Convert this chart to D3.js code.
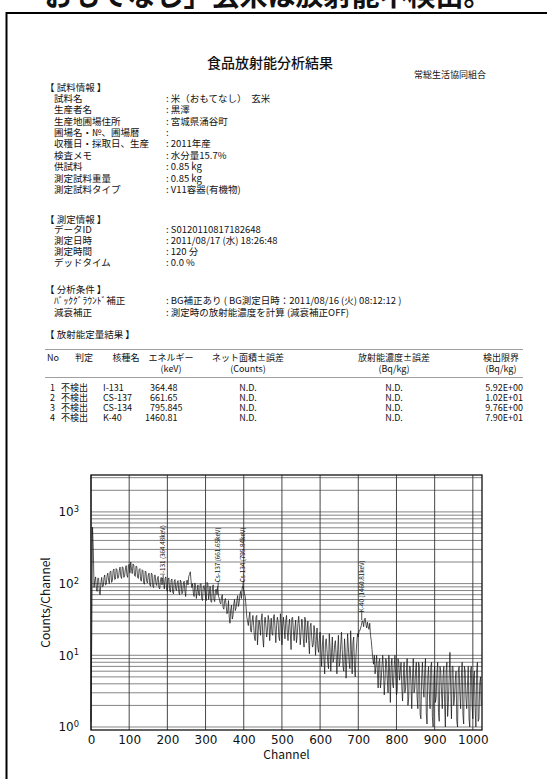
<!DOCTYPE html>
<html>
<head>
<meta charset="utf-8">
<script src="https://cdn.jsdelivr.net/npm/d3@7"></script>
<style>
  body { margin: 0; background: #fff; }
  text { font-family: "Noto Sans CJK JP", sans-serif; fill: #111; }
  .axis text { font-family: "DejaVu Sans", sans-serif; }
</style>
</head>
<body>
<div id="page"></div>
<script>
// ---- document text ----
var headline = 'おもてなし」玄米は放射能不検出。';
var docTitle = '食品放射能分析結果';
var issuer = '常総生活協同組合';

var sampleLabels = ['試料名', '生産者名', '生産地圃場住所', '圃場名・№、圃場暦', '収穫日・採取日、生産',
                    '検査メモ', '供試料', '測定試料重量', '測定試料タイプ'];
var sampleValues = ['米（おもてなし）　玄米', '黒澤', '宮城県涌谷町', '', '2011年産',
                    '水分量15.7%', '0.85 kg', '0.85 kg', 'V11容器(有機物)'];
var measureLabels = ['データID', '測定日時', '測定時間', 'デッドタイム'];
var measureValues = ['S0120110817182648', '2011/08/17 (水) 18:26:48', '120 分', '0.0 %'];
var analysisLabels = ['ﾊﾞｯｸｸﾞﾗｳﾝﾄﾞ補正', '減衰補正'];
var analysisValues = ['BG補正あり ( BG測定日時：2011/08/16 (火) 08:12:12 )', '測定時の放射能濃度を計算 (減衰補正OFF)'];

// ---- result table ----
var tableHead1 = ['No', '判定', '核種名', 'エネルギー', 'ネット面積±誤差', '放射能濃度±誤差', '検出限界'];
var tableHead2 = ['', '', '', '(keV)', '(Counts)', '(Bq/kg)', '(Bq/kg)'];
var resultNo = ['1', '2', '3', '4'];
var resultJudge = ['不検出', '不検出', '不検出', '不検出'];
var resultNuclide = ['I-131', 'CS-137', 'CS-134', 'K-40'];
var resultEnergy = ['364.48', '661.65', '795.845', '1460.81'];
var resultNet = ['N.D.', 'N.D.', 'N.D.', 'N.D.'];
var resultConc = ['N.D.', 'N.D.', 'N.D.', 'N.D.'];
var resultLimit = ['5.92E+00', '1.02E+01', '9.76E+00', '7.90E+01'];

// ---- spectrum: counts read at channels 0,4,8,... and 2,6,10,... ----
var channelStep = 4;
var countsEven = [].concat(
  [1.2, 610, 88, 124, 78, 118, 70, 122, 92, 132, 98],                                    // ch 0-40
  [140, 100, 150, 110, 160, 116, 156, 122, 170, 118, 166, 128, 178, 122, 186],           // ch 44-100
  [200, 138, 182, 126, 172, 118, 162, 108, 152, 98, 146, 102, 140, 92, 136, 88,
   132, 94, 126, 84, 122, 120],                                                          // ch 104-188
  [84, 124, 78, 120, 76, 116, 72, 114, 80, 110, 70, 106, 74, 108, 66, 112, 126, 146],    // ch 192-260
  [88, 74, 102, 62, 96, 68, 100, 58, 94, 64, 104, 60, 92, 55, 96, 56, 84, 92],           // ch 264-332
  [62, 52, 70, 44, 62, 38, 58, 28, 50, 36, 60, 46, 68, 54, 78, 88, 82],                  // ch 336-400
  [66, 34, 26, 40, 21, 36, 18, 34, 14, 31, 19, 38, 13, 34, 18, 36, 16, 33, 19, 37,
   15, 34, 18, 38, 14],                                                                  // ch 404-500
  [34, 17, 36, 16, 32, 12, 34, 16, 31, 19, 35, 14, 32, 17, 34, 15, 30, 10.5, 28, 13,
   26, 10, 24, 11],                                                                      // ch 504-596
  [21, 7, 19, 5.5, 17, 8, 20, 6, 18, 9, 16, 5.5, 19, 8, 21, 7, 17, 4.8, 20, 8, 22, 5.5,
   18, 5, 15, 18],                                                                       // ch 600-700
  [22, 26, 30, 32, 27, 29, 23, 19, 12, 7.5, 5.5],                                        // ch 704-744
  [10, 3.5, 9, 4.5, 10, 2.8, 9, 4.5, 10, 2.2, 9, 3.5, 10, 2.8, 9, 4.5, 8],               // ch 748-812
  [2.3, 8, 3.5, 9, 2.6, 7, 1.8, 9, 3.5, 8, 1.8, 7, 1.3, 8, 2.6, 9, 1.1, 7, 1.8, 8, 1, 7,
   2.6, 8, 1.2, 6, 1.8, 7, 1, 8, 2.2, 11, 1.3, 7, 2.6, 6, 1, 7, 1.8, 8, 1.1, 6, 1.8, 7,
   1, 7, 1.3, 6, 1, 8, 1.3, 5]                                                           // ch 816-1020
);
var countsOdd = [].concat(
  [20, 300, 110, 86, 120, 74, 104, 90, 120, 96, 128],                                    // ch 2-42
  [112, 146, 104, 152, 114, 162, 118, 150, 126, 172, 122, 160, 132, 180, 140],           // ch 46-102
  [160, 188, 130, 176, 122, 158, 112, 156, 102, 150, 106, 132, 96, 140, 92, 130,
   100, 120, 88, 114, 96, 108],                                                          // ch 106-190
  [118, 82, 116, 80, 112, 76, 108, 84, 104, 76, 112, 72, 102, 78, 108, 96, 134, 110],    // ch 194-262
  [100, 66, 90, 78, 70, 98, 62, 90, 80, 58, 100, 72, 56, 88, 60, 82, 70, 66],            // ch 266-334
  [54, 66, 46, 58, 50, 40, 34, 44, 32, 52, 42, 58, 48, 70, 62, 92, 72],                  // ch 338-402
  [48, 30, 34, 22, 30, 26, 16, 36, 22, 26, 32, 17, 28, 26, 22, 31, 24, 20, 35, 24,
   26, 30, 16, 28, 25],                                                                  // ch 406-502
  [24, 30, 21, 26, 20, 33, 22, 24, 15, 28, 24, 20, 27, 13, 30, 22, 16, 25, 18, 14,
   21, 16, 13, 17],                                                                      // ch 506-598
  [12, 14, 9, 15, 12, 6.5, 13, 11, 8, 14, 10, 12, 7, 14, 12, 6, 11, 9, 13, 6.5, 12, 15,
   7, 10, 20, 22],                                                                       // ch 602-702
  [24, 30, 25, 33, 24, 25, 28, 16, 9, 10, 7],                                            // ch 706-746
  [6, 8, 3.5, 7, 6, 4.5, 8, 3, 6, 7, 4, 7, 5, 3.2, 8, 6, 3.5],                           // ch 750-814
  [5, 3, 6, 2, 7, 4, 5, 3, 6, 2.6, 8, 1.5, 5, 3.5, 6, 1.6, 5, 3, 7, 1.4, 5, 2.2, 6, 1.6,
   7, 3, 5, 2.2, 6, 1.4, 5, 3.5, 7, 2, 4.5, 1.2, 6, 3, 5, 1.5, 7, 2.5, 4, 1.3, 6, 2, 5,
   1.8, 6, 1.2, 4, 2]                                                                    // ch 818-1022
);
var xTicks = [0, 100, 200, 300, 400, 500, 600, 700, 800, 900, 1000];
var yTicks = [1, 10, 100, 1000];

var peakNames = ['I-131 (364.48keV)', 'Cs-137 (661.65keV)', 'Cs-134 (795.84keV)', 'K-40 (1460.81keV)'];
var peakChannels = [189, 333, 398, 709];
var peakCounts = [118, 90, 86, 31];
var peakLabelFrom = [132, 104, 104, 40];

// -------------------------------------------------------------
var W = 547, H = 779;
var svg = d3.select('#page').append('svg')
    .attr('width', W)
    .attr('height', H);

svg.append('rect').attr('width', W).attr('height', H).attr('fill', '#fff');

// headline cut at the top edge
svg.append('text')
    .attr('x', 268).attr('y', 6)
    .attr('text-anchor', 'middle')
    .attr('font-size', 28).attr('font-weight', 'bold')
    .text(headline);

// page frame
svg.append('rect')
    .attr('x', 6.5).attr('y', 13)
    .attr('width', 620).attr('height', 800)
    .attr('fill', 'none').attr('stroke', '#000').attr('stroke-width', 2);

svg.append('text')
    .attr('x', 270).attr('y', 68)
    .attr('text-anchor', 'middle')
    .attr('font-size', 14).attr('font-weight', 500)
    .text(docTitle);

svg.append('text')
    .attr('x', 414).attr('y', 78)
    .attr('font-size', 9)
    .text(issuer);

function section(title, labels, values, titleY, rowY, step) {
    var g = svg.append('g').attr('font-size', 9.5);
    g.append('text').attr('x', 45).attr('y', titleY + 3.3).text('【 ' + title + ' 】');
    var rows = g.selectAll('.row')
        .data(labels.map(function(l, i) { return {label: l, value: values[i]}; }))
        .enter().append('g')
        .attr('transform', function(d, i) { return 'translate(0,' + (rowY + i * step + 3.3) + ')'; });
    rows.append('text').attr('x', 54).text(function(d) { return d.label; });
    rows.append('text').attr('x', 166).text(function(d) { return ': ' + d.value; });
}

section('試料情報', sampleLabels, sampleValues, 88, 98.5, 11.4);
section('測定情報', measureLabels, measureValues, 220, 230, 11);
section('分析条件', analysisLabels, analysisValues, 290, 301, 11.5);

svg.append('text').attr('x', 45).attr('y', 338.3).attr('font-size', 9.5).text('【 放射能定量結果 】');

// ---- table ----
var colX = [47, 84, 126, 171, 248, 394, 501];
var table = svg.append('g').attr('font-size', 9);
[349.5, 377.5].forEach(function(y) {
    table.append('line')
        .attr('x1', 45).attr('x2', 523).attr('y1', y).attr('y2', y)
        .attr('stroke', '#888').attr('stroke-width', 0.8);
});
table.selectAll('.h1').data(tableHead1).enter().append('text')
    .attr('x', function(d, i) { return colX[i]; })
    .attr('y', 360.5)
    .attr('text-anchor', function(d, i) { return i === 0 ? 'start' : 'middle'; })
    .text(function(d) { return d; });
table.selectAll('.h2').data(tableHead2).enter().append('text')
    .attr('x', function(d, i) { return colX[i]; })
    .attr('y', 371.5)
    .attr('text-anchor', 'middle')
    .text(function(d) { return d; });

var resRows = table.selectAll('.res')
    .data(resultNo.map(function(n, i) {
        return {no: n, judge: resultJudge[i], nuc: resultNuclide[i], en: resultEnergy[i],
                net: resultNet[i], conc: resultConc[i], lim: resultLimit[i]};
    }))
    .enter().append('g')
    .attr('transform', function(d, i) { return 'translate(0,' + (390.5 + i * 10) + ')'; });
resRows.append('text').attr('x', 55).attr('text-anchor', 'end').text(function(d) { return d.no; });
resRows.append('text').attr('x', 61).text(function(d) { return d.judge; });
resRows.append('text').attr('x', 103).text(function(d) { return d.nuc; });
resRows.append('text').attr('x', 165).attr('text-anchor', 'end').text(function(d) { return d.en.split('.')[0]; });
resRows.append('text').attr('x', 165).text(function(d) { return '.' + d.en.split('.')[1]; });
resRows.append('text').attr('x', colX[4]).attr('text-anchor', 'middle').text(function(d) { return d.net; });
resRows.append('text').attr('x', colX[5]).attr('text-anchor', 'middle').text(function(d) { return d.conc; });
resRows.append('text').attr('x', 523).attr('text-anchor', 'end').text(function(d) { return d.lim; });

// ---- spectrum chart ----
var plot = {left: 91, right: 482, top: 475, bottom: 730};
var x = d3.scaleLinear().domain([0, 1024]).range([plot.left, plot.right]);
var y = d3.scaleLog().domain([0.908, 3270]).range([plot.bottom, plot.top]);

var chart = svg.append('g');

var minor = [];
[1, 10, 100, 1000].forEach(function(dec) {
    for (var m = 1; m <= 9; m++) {
        var v = m * dec;
        if (v >= y.domain()[0] && v <= y.domain()[1]) minor.push(v);
    }
});
chart.selectAll('.hgrid').data(minor).enter().append('line')
    .attr('x1', plot.left).attr('x2', plot.right)
    .attr('y1', function(d) { return y(d); }).attr('y2', function(d) { return y(d); })
    .attr('stroke', '#666').attr('stroke-width', 0.8);
chart.selectAll('.vgrid').data(xTicks).enter().append('line')
    .attr('x1', function(d) { return x(d); }).attr('x2', function(d) { return x(d); })
    .attr('y1', plot.top).attr('y2', plot.bottom)
    .attr('stroke', '#333').attr('stroke-width', 0.9);

var spectrum = [];
countsEven.forEach(function(v, i) {
    spectrum.push({ch: i * channelStep, n: v});
    spectrum.push({ch: i * channelStep + channelStep / 2, n: countsOdd[i]});
});

var line = d3.line()
    .x(function(d) { return x(d.ch); })
    .y(function(d) { return y(d.n); });
chart.append('path')
    .datum(spectrum)
    .attr('d', line)
    .attr('fill', 'none')
    .attr('stroke', '#111')
    .attr('stroke-width', 0.7);

// peak markers
var peaks = chart.selectAll('.peak')
    .data(peakNames.map(function(n, i) {
        return {name: n, ch: peakChannels[i], top: peakCounts[i], from: peakLabelFrom[i]};
    }))
    .enter().append('g');
peaks.append('line')
    .attr('x1', function(d) { return x(d.ch); }).attr('x2', function(d) { return x(d.ch); })
    .attr('y1', function(d) { return y(d.top); }).attr('y2', function(d) { return y(d.from); })
    .attr('stroke', '#222').attr('stroke-width', 0.8);
peaks.append('text')
    .attr('transform', function(d) { return 'translate(' + (x(d.ch) + 2.3) + ',' + y(d.from) + ') rotate(-90)'; })
    .attr('font-family', 'DejaVu Sans, sans-serif')
    .attr('font-size', 6.3)
    .text(function(d) { return d.name; });

chart.append('rect')
    .attr('x', plot.left).attr('y', plot.top)
    .attr('width', plot.right - plot.left).attr('height', plot.bottom - plot.top)
    .attr('fill', 'none').attr('stroke', '#111').attr('stroke-width', 1.3);

var xAxis = chart.append('g')
    .attr('class', 'axis')
    .attr('transform', 'translate(0,' + plot.bottom + ')')
    .call(d3.axisBottom(x).tickValues(xTicks).tickSize(0).tickPadding(5).tickFormat(d3.format('d')));
xAxis.select('.domain').remove();
xAxis.selectAll('text').attr('font-size', 12).attr('fill', '#111');

var yAxis = chart.append('g')
    .attr('class', 'axis')
    .attr('transform', 'translate(' + plot.left + ',0)')
    .call(d3.axisLeft(y).tickValues(yTicks).tickSize(0).tickPadding(12).tickFormat(''));
yAxis.select('.domain').remove();
yAxis.selectAll('.tick text').each(function(d) {
    var t = d3.select(this).attr('font-size', 12).attr('fill', '#111');
    t.append('tspan').text('10');
    t.append('tspan').attr('dy', '-0.5em').attr('font-size', '0.7em').text(Math.round(Math.log10(d)));
});

chart.append('text')
    .attr('class', 'axis')
    .attr('x', (plot.left + plot.right) / 2).attr('y', 759)
    .attr('text-anchor', 'middle')
    .attr('font-family', 'DejaVu Sans, sans-serif')
    .attr('font-size', 12)
    .text('Channel');

chart.append('text')
    .attr('transform', 'translate(50,' + ((plot.top + plot.bottom) / 2) + ') rotate(-90)')
    .attr('text-anchor', 'middle')
    .attr('font-family', 'DejaVu Sans, sans-serif')
    .attr('font-size', 12)
    .text('Counts/Channel');
</script>
</body>
</html>
